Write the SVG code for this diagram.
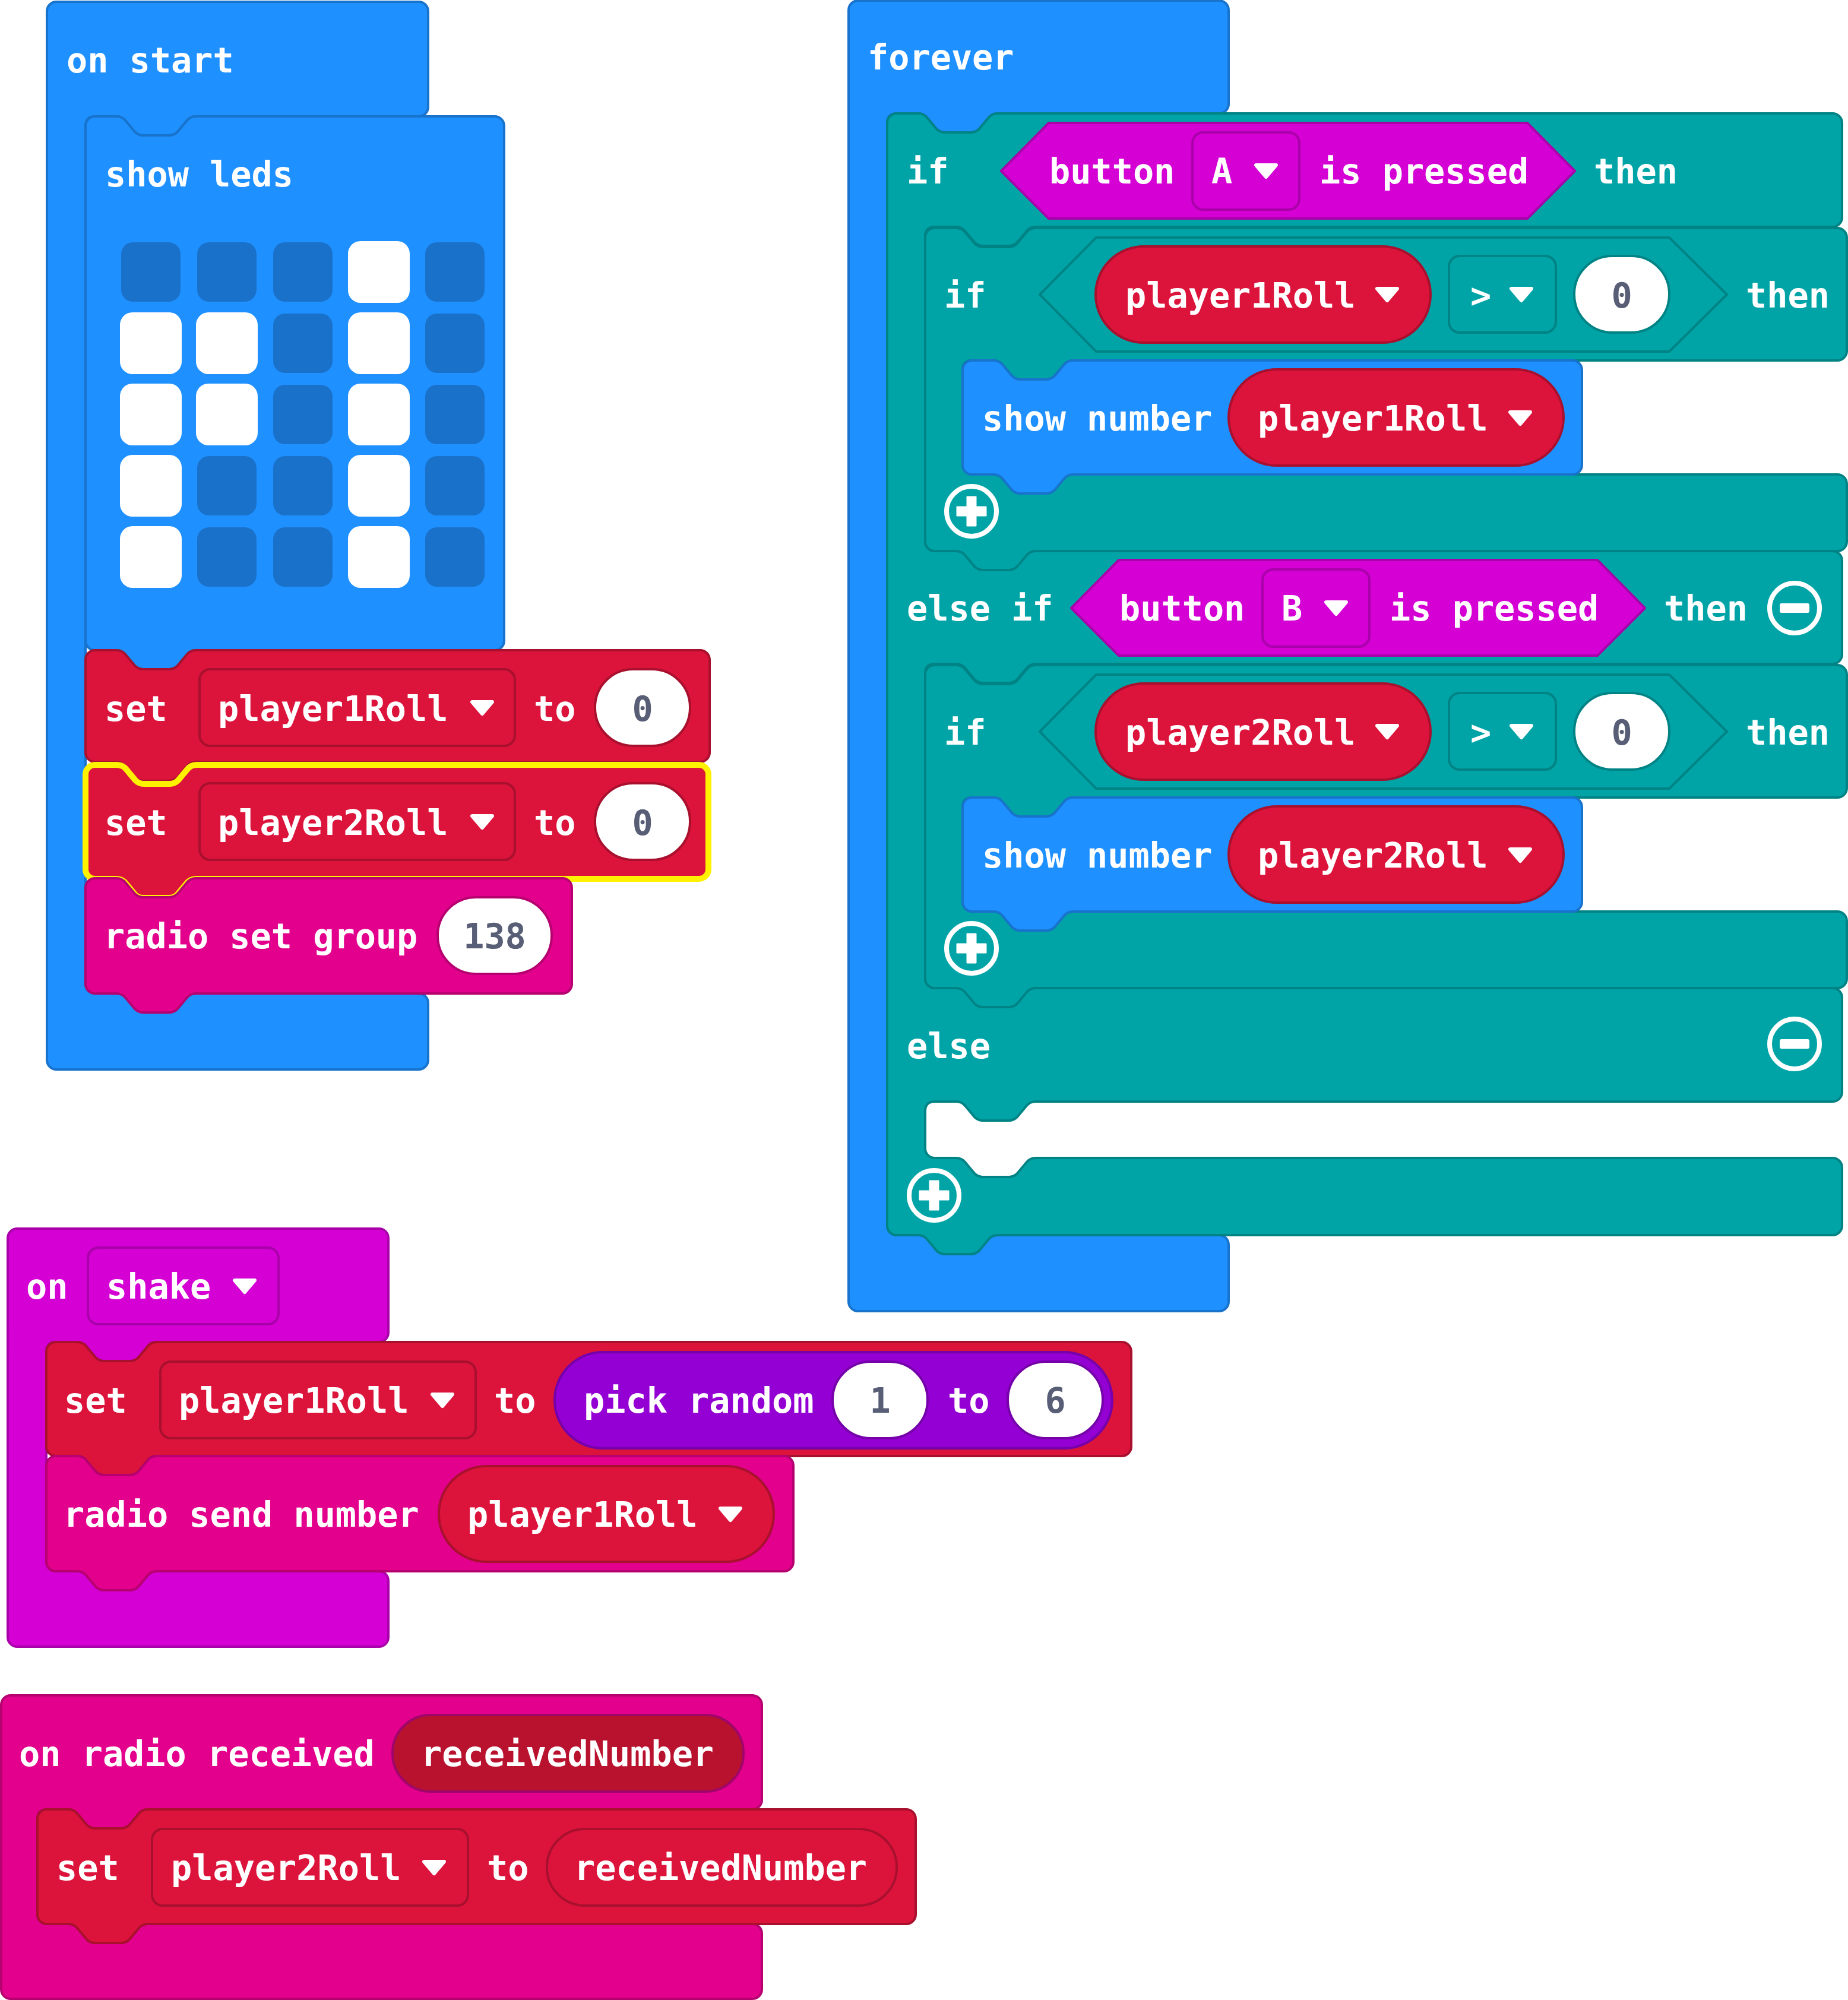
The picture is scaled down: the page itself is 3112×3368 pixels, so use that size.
<svg xmlns="http://www.w3.org/2000/svg" width="3112" height="3368" viewBox="0 0 3112 3368">
<style>
text{font-family:"DejaVu Sans Mono","Liberation Mono",monospace;font-size:58.5px;font-weight:bold;fill:#fff}
text.v{fill:#575E75;text-anchor:middle}
.b,.t,.e,.r,.d,.p{stroke-width:4;stroke-linejoin:round}
.b{fill:#1E90FF;stroke:#1873CC}
.t{fill:#00A4A6;stroke:#008385}
.e{fill:#D400D4;stroke:#AA00AA}
.r{fill:#E3008C;stroke:#B60070}
.d{fill:#DC143C;stroke:#A8102E}
.p{fill:#9400D3;stroke:#7600A9}
.x{fill:#B8122F;stroke:#A0056A;stroke-width:4}
.sel{stroke:#FFF200;stroke-width:10}
.w{fill:#fff}
.ft{stroke:#008385;stroke-width:4}
.fd{stroke:#A8102E;stroke-width:4}
.fr{stroke:#B60070;stroke-width:4}
.fp{stroke:#7600A9;stroke-width:4}
.ld{fill:#1A71C9}
.ic{fill:none;stroke:#fff;stroke-width:8}
</style>
<defs>
<path id="dd" d="M-17-10H17L0 10z" fill="#fff" stroke="#fff" stroke-width="6" stroke-linejoin="round"/>
<g id="plus"><circle r="42" class="ic"/><path d="M-8-25h16v17h17v16h-17v17h-16v-17h-17v-16h17z" fill="#fff" stroke="#fff" stroke-width="1" stroke-linejoin="round"/></g>
<g id="minus"><circle r="42" class="ic"/><rect x="-25" y="-8" width="50" height="16" rx="3" fill="#fff"/></g>
<rect id="led0" x="-50" y="-50" width="100" height="100" rx="20" class="ld"/>
<rect id="led1" x="-52" y="-52" width="104" height="104" rx="21" class="w"/>
</defs>

<g id="on-start">
<path class="b" d="M95 3H705a16 16 0 0 1 16 16V180a16 16 0 0 1-16 16H330q-10 0-16 8l-15 18q-6 6-14 6h-44q-8 0-14-6l-15-18q-6-8-16-8h-36q-16 0-16 16V1657a16 16 0 0 0 16 16H705a16 16 0 0 1 16 16V1785a16 16 0 0 1-16 16H95a16 16 0 0 1-16-16V19a16 16 0 0 1 16-16z"/>
<text x="112" y="122">on start</text>
</g>
<g id="show-leds">
<path class="b" d="M160 196h36q10 0 16 8l15 18q6 6 14 6h44q8 0 14-6l15-18q6-8 16-8H833a16 16 0 0 1 16 16V1079a16 16 0 0 1-16 16H330q-10 0-16 8l-15 18q-6 6-14 6h-44q-8 0-14-6l-15-18q-6-8-16-8h-36a16 16 0 0 1-16-16V212a16 16 0 0 1 16-16z"/>
<text x="177" y="314">show leds</text>
<use href="#led0" x="254" y="458"/><use href="#led0" x="382" y="458"/><use href="#led0" x="510" y="458"/><use href="#led1" x="638" y="458"/><use href="#led0" x="766" y="458"/>
<use href="#led1" x="254" y="578"/><use href="#led1" x="382" y="578"/><use href="#led0" x="510" y="578"/><use href="#led1" x="638" y="578"/><use href="#led0" x="766" y="578"/>
<use href="#led1" x="254" y="698"/><use href="#led1" x="382" y="698"/><use href="#led0" x="510" y="698"/><use href="#led1" x="638" y="698"/><use href="#led0" x="766" y="698"/>
<use href="#led1" x="254" y="818"/><use href="#led0" x="382" y="818"/><use href="#led0" x="510" y="818"/><use href="#led1" x="638" y="818"/><use href="#led0" x="766" y="818"/>
<use href="#led1" x="254" y="938"/><use href="#led0" x="382" y="938"/><use href="#led0" x="510" y="938"/><use href="#led1" x="638" y="938"/><use href="#led0" x="766" y="938"/>
</g>
<g id="set-p1-zero">
<path class="d" d="M160 1095h36q10 0 16 8l15 18q6 6 14 6h44q8 0 14-6l15-18q6-8 16-8H1179a16 16 0 0 1 16 16V1267a16 16 0 0 1-16 16H330q-10 0-16 8l-15 18q-6 6-14 6h-44q-8 0-14-6l-15-18q-6-8-16-8h-36a16 16 0 0 1-16-16V1111a16 16 0 0 1 16-16z"/>
<text x="176" y="1214">set</text>
<rect class="fd" fill="none" x="336" y="1127" width="531" height="129" rx="18"/>
<text x="367" y="1214">player1Roll</text><use href="#dd" x="812" y="1192"/>
<text x="899" y="1214">to</text>
<rect class="fd w" x="1002" y="1127" width="160" height="129" rx="64"/>
<text class="v" x="1082" y="1214">0</text>
</g>
<g id="set-p2-zero">
<path class="d sel" d="M161 1288h36q10 0 16 8l15 18q6 6 14 6h44q8 0 14-6l15-18q6-8 16-8H1177a16 16 0 0 1 16 16V1464a16 16 0 0 1-16 16H330q-10 0-16 8l-15 18q-6 6-14 6h-44q-8 0-14-6l-15-18q-6-8-16-8h-36a16 16 0 0 1-16-16V1304a16 16 0 0 1 16-16z"/>
<text x="176" y="1406">set</text>
<rect class="fd" fill="none" x="336" y="1319" width="531" height="129" rx="18"/>
<text x="367" y="1406">player2Roll</text><use href="#dd" x="812" y="1384"/>
<text x="899" y="1406">to</text>
<rect class="fd w" x="1002" y="1319" width="160" height="129" rx="64"/>
<text class="v" x="1082" y="1406">0</text>
</g>
<g id="radio-set-group">
<path class="r" d="M160 1479h36q10 0 16 8l15 18q6 6 14 6h44q8 0 14-6l15-18q6-8 16-8H947a16 16 0 0 1 16 16V1657a16 16 0 0 1-16 16H330q-10 0-16 8l-15 18q-6 6-14 6h-44q-8 0-14-6l-15-18q-6-8-16-8h-36a16 16 0 0 1-16-16V1495a16 16 0 0 1 16-16z"/>
<text x="175" y="1597">radio set group</text>
<rect class="fr w" x="737" y="1511" width="192" height="129" rx="64"/>
<text class="v" x="833" y="1597">138</text>
</g>

<g id="forever">
<path class="b" d="M1445 1H2053a16 16 0 0 1 16 16V175a16 16 0 0 1-16 16H1680q-10 0-16 8l-15 18q-6 6-14 6h-44q-8 0-14-6l-15-18q-6-8-16-8h-36q-16 0-16 16V2064a16 16 0 0 0 16 16H2053a16 16 0 0 1 16 16V2192a16 16 0 0 1-16 16H1445a16 16 0 0 1-16-16V17a16 16 0 0 1 16-16z"/>
<text x="1461" y="117">forever</text>
</g>
<g id="if-outer">
<path class="t" d="M1510 191h36q10 0 16 8l15 18q6 6 14 6h44q8 0 14-6l15-18q6-8 16-8H3086a16 16 0 0 1 16 16V366a16 16 0 0 1-16 16H1744q-10 0-16 8l-15 18q-6 6-14 6h-44q-8 0-14-6l-15-18q-6-8-16-8h-36q-16 0-16 16V912a16 16 0 0 0 16 16H3086a16 16 0 0 1 16 16V1102a16 16 0 0 1-16 16H1744q-10 0-16 8l-15 18q-6 6-14 6h-44q-8 0-14-6l-15-18q-6-8-16-8h-36q-16 0-16 16V1648a16 16 0 0 0 16 16H3086a16 16 0 0 1 16 16V1839a16 16 0 0 1-16 16H1744q-10 0-16 8l-15 18q-6 6-14 6h-44q-8 0-14-6l-15-18q-6-8-16-8h-36q-16 0-16 16V1934a16 16 0 0 0 16 16h36q10 0 16 8l15 18q6 6 14 6h44q8 0 14-6l15-18q6-8 16-8H3086a16 16 0 0 1 16 16V2064a16 16 0 0 1-16 16H1680q-10 0-16 8l-15 18q-6 6-14 6h-44q-8 0-14-6l-15-18q-6-8-16-8h-36a16 16 0 0 1-16-16V207a16 16 0 0 1 16-16z"/>
<text x="1527" y="309">if</text>
<path class="e" d="M1766 207H2572L2652 288 2572 368H1766L1686 288z"/>
<text x="1767" y="309">button</text>
<rect class="e" x="2008" y="223" width="180" height="130" rx="18"/>
<text x="2040" y="309">A</text><use href="#dd" x="2132" y="288"/>
<text x="2222" y="309">is pressed</text>
<text x="2684" y="309">then</text>
<text x="1527" y="1045">else if</text>
<path class="e" d="M1884 943H2690L2770 1024 2690 1104H1884L1804 1024z"/>
<text x="1885" y="1045">button</text>
<rect class="e" x="2126" y="959" width="180" height="130" rx="18"/>
<text x="2158" y="1045">B</text><use href="#dd" x="2250" y="1024"/>
<text x="2340" y="1045">is pressed</text>
<text x="2802" y="1045">then</text>
<use href="#minus" x="3022" y="1024"/>
<text x="1527" y="1782">else</text>
<use href="#minus" x="3022" y="1758"/>
<use href="#plus" x="1573" y="2013"/>
</g>
<g id="if-inner-1">
<path class="t" d="M1574 384h36q10 0 16 8l15 18q6 6 14 6h44q8 0 14-6l15-18q6-8 16-8H3094a16 16 0 0 1 16 16V591a16 16 0 0 1-16 16H1807q-10 0-16 8l-15 18q-6 6-14 6h-44q-8 0-14-6l-15-18q-6-8-16-8h-36q-16 0-16 16V783a16 16 0 0 0 16 16h36q10 0 16 8l15 18q6 6 14 6h44q8 0 14-6l15-18q6-8 16-8H3094a16 16 0 0 1 16 16V912a16 16 0 0 1-16 16H1744q-10 0-16 8l-15 18q-6 6-14 6h-44q-8 0-14-6l-15-18q-6-8-16-8h-36a16 16 0 0 1-16-16V400a16 16 0 0 1 16-16z"/>
<text x="1590" y="518">if</text>
<path class="t" d="M1846 400H2811L2908 496 2811 592H1846L1751 496z"/>
<rect class="d" x="1845" y="415" width="564" height="162" rx="81"/>
<text x="1895" y="518">player1Roll</text><use href="#dd" x="2336" y="496"/>
<rect class="ft" fill="none" x="2440" y="431" width="180" height="129" rx="18"/>
<text x="2476" y="518">&gt;</text><use href="#dd" x="2562" y="496"/>
<rect class="ft w" x="2651" y="431" width="160" height="129" rx="64"/>
<text class="v" x="2731" y="518">0</text>
<text x="2940" y="518">then</text>
<use href="#plus" x="1636" y="861"/>
</g>
<g id="show-number-1">
<path class="b" d="M1637 607h36q10 0 16 8l15 18q6 6 14 6h44q8 0 14-6l15-18q6-8 16-8H2648a16 16 0 0 1 16 16V783a16 16 0 0 1-16 16H1807q-10 0-16 8l-15 18q-6 6-14 6h-44q-8 0-14-6l-15-18q-6-8-16-8h-36a16 16 0 0 1-16-16V623a16 16 0 0 1 16-16z"/>
<text x="1654" y="725">show number</text>
<rect class="d" x="2069" y="622" width="564" height="162" rx="81"/>
<text x="2118" y="725">player1Roll</text><use href="#dd" x="2560" y="704"/>
</g>
<g id="if-inner-2">
<path class="t" d="M1574 1120h36q10 0 16 8l15 18q6 6 14 6h44q8 0 14-6l15-18q6-8 16-8H3094a16 16 0 0 1 16 16V1327a16 16 0 0 1-16 16H1807q-10 0-16 8l-15 18q-6 6-14 6h-44q-8 0-14-6l-15-18q-6-8-16-8h-36q-16 0-16 16V1519a16 16 0 0 0 16 16h36q10 0 16 8l15 18q6 6 14 6h44q8 0 14-6l15-18q6-8 16-8H3094a16 16 0 0 1 16 16V1648a16 16 0 0 1-16 16H1744q-10 0-16 8l-15 18q-6 6-14 6h-44q-8 0-14-6l-15-18q-6-8-16-8h-36a16 16 0 0 1-16-16V1136a16 16 0 0 1 16-16z"/>
<text x="1590" y="1254">if</text>
<path class="t" d="M1846 1136H2811L2908 1232 2811 1328H1846L1751 1232z"/>
<rect class="d" x="1845" y="1151" width="564" height="162" rx="81"/>
<text x="1895" y="1254">player2Roll</text><use href="#dd" x="2336" y="1232"/>
<rect class="ft" fill="none" x="2440" y="1167" width="180" height="129" rx="18"/>
<text x="2476" y="1254">&gt;</text><use href="#dd" x="2562" y="1232"/>
<rect class="ft w" x="2651" y="1167" width="160" height="129" rx="64"/>
<text class="v" x="2731" y="1254">0</text>
<text x="2940" y="1254">then</text>
<use href="#plus" x="1636" y="1597"/>
</g>
<g id="show-number-2">
<path class="b" d="M1637 1343h36q10 0 16 8l15 18q6 6 14 6h44q8 0 14-6l15-18q6-8 16-8H2648a16 16 0 0 1 16 16V1519a16 16 0 0 1-16 16H1807q-10 0-16 8l-15 18q-6 6-14 6h-44q-8 0-14-6l-15-18q-6-8-16-8h-36a16 16 0 0 1-16-16V1359a16 16 0 0 1 16-16z"/>
<text x="1654" y="1461">show number</text>
<rect class="d" x="2069" y="1358" width="564" height="162" rx="81"/>
<text x="2118" y="1461">player2Roll</text><use href="#dd" x="2560" y="1440"/>
</g>

<g id="on-shake">
<path class="e" d="M29 2069H638a16 16 0 0 1 16 16V2244a16 16 0 0 1-16 16H264q-10 0-16 8l-15 18q-6 6-14 6h-44q-8 0-14-6l-15-18q-6-8-16-8h-36q-16 0-16 16V2630a16 16 0 0 0 16 16H638a16 16 0 0 1 16 16V2757a16 16 0 0 1-16 16H29a16 16 0 0 1-16-16V2085a16 16 0 0 1 16-16z"/>
<text x="44" y="2187">on</text>
<rect class="e" x="148" y="2101" width="321" height="129" rx="18"/>
<text x="179" y="2187">shake</text><use href="#dd" x="412" y="2166"/>
</g>
<g id="set-p1-random">
<path class="d" d="M94 2260h36q10 0 16 8l15 18q6 6 14 6h44q8 0 14-6l15-18q6-8 16-8H1889a16 16 0 0 1 16 16V2436a16 16 0 0 1-16 16H264q-10 0-16 8l-15 18q-6 6-14 6h-44q-8 0-14-6l-15-18q-6-8-16-8h-36a16 16 0 0 1-16-16V2276a16 16 0 0 1 16-16z"/>
<text x="108" y="2379">set</text>
<rect class="fd" fill="none" x="270" y="2293" width="531" height="129" rx="18"/>
<text x="301" y="2379">player1Roll</text><use href="#dd" x="745" y="2358"/>
<text x="832" y="2379">to</text>
<rect class="p" x="934" y="2277" width="939" height="162" rx="81"/>
<text x="983" y="2379">pick random</text>
<rect class="fp w" x="1402" y="2293" width="160" height="129" rx="64"/>
<text class="v" x="1482" y="2379">1</text>
<text x="1596" y="2379">to</text>
<rect class="fp w" x="1697" y="2293" width="160" height="129" rx="64"/>
<text class="v" x="1777" y="2379">6</text>
</g>
<g id="radio-send">
<path class="r" d="M94 2452h36q10 0 16 8l15 18q6 6 14 6h44q8 0 14-6l15-18q6-8 16-8H1320a16 16 0 0 1 16 16V2630a16 16 0 0 1-16 16H264q-10 0-16 8l-15 18q-6 6-14 6h-44q-8 0-14-6l-15-18q-6-8-16-8h-36a16 16 0 0 1-16-16V2468a16 16 0 0 1 16-16z"/>
<text x="107" y="2571">radio send number</text>
<rect class="d" x="739" y="2469" width="564" height="161" rx="80"/>
<text x="787" y="2571">player1Roll</text><use href="#dd" x="1230" y="2550"/>
</g>

<g id="on-radio-received">
<path class="r" d="M18 2855H1267a16 16 0 0 1 16 16V3031a16 16 0 0 1-16 16H249q-10 0-16 8l-15 18q-6 6-14 6h-44q-8 0-14-6l-15-18q-6-8-16-8h-36q-16 0-16 16V3224a16 16 0 0 0 16 16H1267a16 16 0 0 1 16 16V3350a16 16 0 0 1-16 16H18a16 16 0 0 1-16-16V2871a16 16 0 0 1 16-16z"/>
<text x="32" y="2974">on radio received</text>
<rect class="x" x="661" y="2888" width="591" height="129" rx="64"/>
<text x="709" y="2974">receivedNumber</text>
</g>
<g id="set-p2-received">
<path class="d" d="M79 3047h36q10 0 16 8l15 18q6 6 14 6h44q8 0 14-6l15-18q6-8 16-8H1526a16 16 0 0 1 16 16V3224a16 16 0 0 1-16 16H249q-10 0-16 8l-15 18q-6 6-14 6h-44q-8 0-14-6l-15-18q-6-8-16-8h-36a16 16 0 0 1-16-16V3063a16 16 0 0 1 16-16z"/>
<text x="95" y="3166">set</text>
<rect class="fd" fill="none" x="256" y="3080" width="532" height="129" rx="18"/>
<text x="288" y="3166">player2Roll</text><use href="#dd" x="731" y="3145"/>
<text x="820" y="3166">to</text>
<rect class="d" x="921" y="3080" width="589" height="129" rx="64"/>
<text x="967" y="3166">receivedNumber</text>
</g>
</svg>
